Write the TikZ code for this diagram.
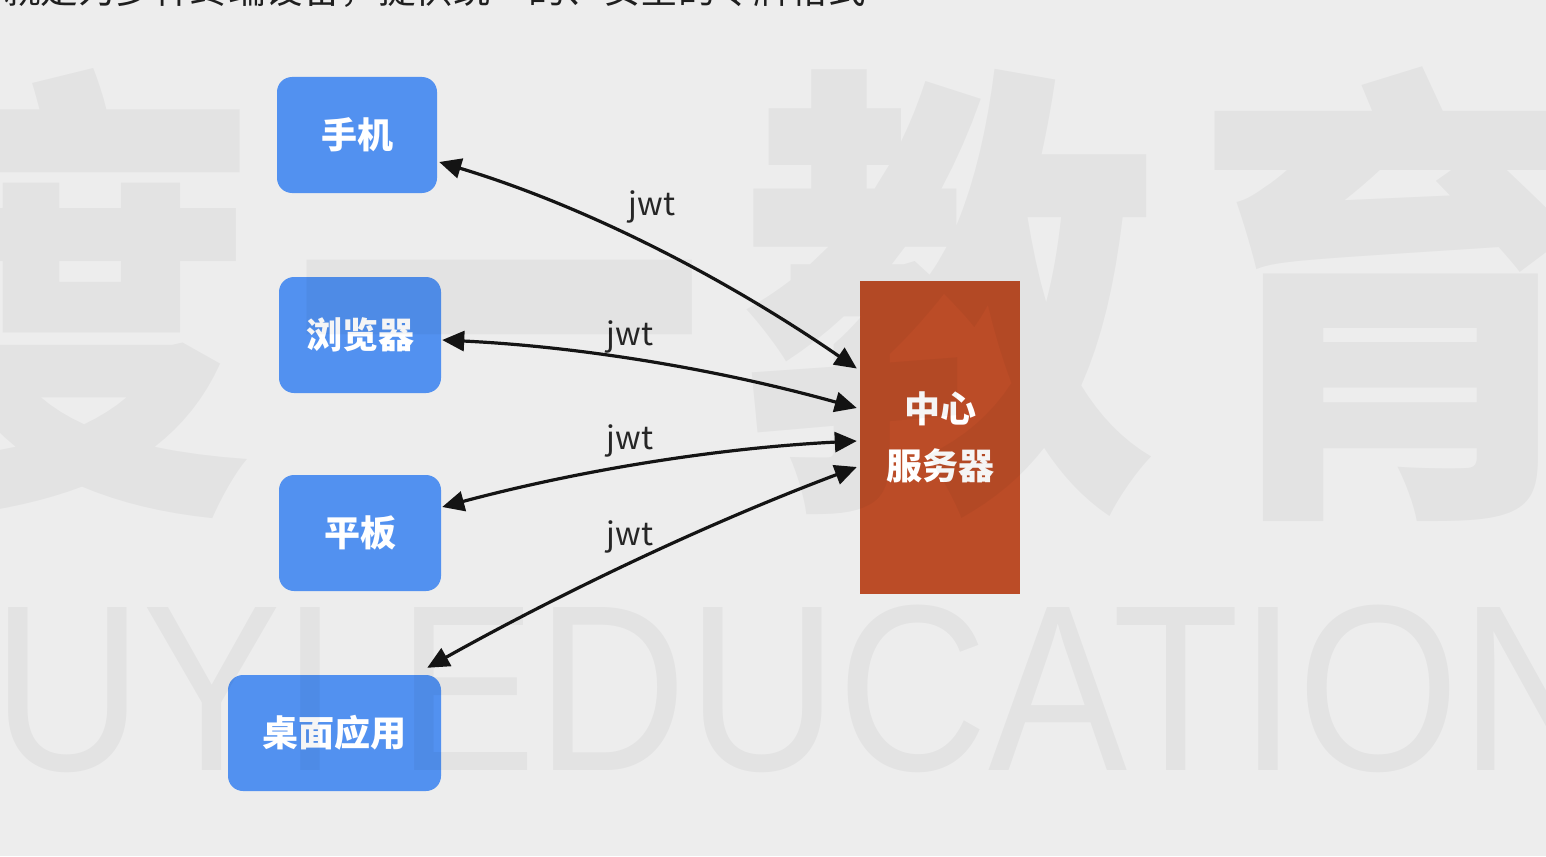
\documentclass[tikz,border=0pt]{standalone}
\usepackage{fontspec}
\usetikzlibrary{arrows.meta,calc}
\newfontfamily\cjk{Noto Sans CJK SC}
\newfontfamily\wmfont{Liberation Sans}
\definecolor{bgc}{HTML}{EDEDED}
\definecolor{blueb}{HTML}{5291F0}
\definecolor{srvc}{HTML}{BB4C27}
\begin{document}
\begin{tikzpicture}[x=1pt,y=-1pt,
  dev/.style={fill=blueb, rounded corners=15pt, text=white, font=\cjk\bfseries\fontsize{36}{40}\selectfont, inner sep=0pt},
  srvbox/.style={fill=srvc, text=white, align=center, font=\cjk\bfseries\fontsize{36}{57}\selectfont, inner sep=0pt},
  link/.style={line width=3.2pt, black!92, {Triangle[length=22pt,width=20pt]}-{Triangle[length=22pt,width=20pt]}},
  lbl/.style={font=\cjk\fontsize{32}{36}\selectfont, text=black!85, inner sep=0pt},
  wmark/.style={text=black, text opacity=0.04, inner sep=0pt}
]
\useasboundingbox (0,0) rectangle (1546,856);
\fill[bgc] (0,0) rectangle (1546,856);
\clip (0,0) rectangle (1546,856);

\node[anchor=base west, inner sep=0pt, font=\cjk\fontsize{37.5}{40}\selectfont, text=black!88] (top) at (3,4) {就是为多种终端设备，提供统一的、安全的令牌格式};

\node[dev, minimum width=160pt, minimum height=116pt] (phone) at (357,135) {手机};
\node[dev, minimum width=162pt, minimum height=116pt] (browser) at (360,335) {浏览器};
\node[dev, minimum width=162pt, minimum height=116pt] (tablet) at (360,533) {平板};
\node[dev, minimum width=213pt, minimum height=116pt] (desktop) at (334.5,733) {桌面应用};
\node[srvbox, minimum width=160pt, minimum height=313pt] (server) at (940,437.5) {中心\\服务器};

\coordinate (a1) at ($(phone.east)+(2,27)$);
\coordinate (b1) at ($(server.west)+(-3,-69)$);
\coordinate (a2) at ($(browser.east)+(1,5)$);
\coordinate (b2) at ($(server.west)+(-3,-29.5)$);
\coordinate (a3) at ($(tablet.east)+(1,-26)$);
\coordinate (b3) at ($(server.west)+(-3,3.5)$);
\coordinate (a4) at ($(desktop.north east)+(-14,-7)$);
\coordinate (b4) at ($(server.west)+(-3,29.5)$);

\draw[link] (a1) .. controls ($(a1)!0.333!(b1)+(0,-27)$) and ($(a1)!0.667!(b1)+(0,-27)$) .. (b1);
\draw[link] (a2) .. controls ($(a2)!0.333!(b2)+(0,-16)$) and ($(a2)!0.667!(b2)+(0,-16)$) .. (b2);
\draw[link] (a3) .. controls ($(a3)!0.333!(b3)+(0,-15)$) and ($(a3)!0.667!(b3)+(0,-15)$) .. (b3);
\draw[link] (a4) .. controls ($(a4)!0.333!(b4)+(0,-13)$) and ($(a4)!0.667!(b4)+(0,-13)$) .. (b4);

\node[lbl] (j1) at (652,207) {jwt};
\node[lbl] (j2) at (630,337) {jwt};
\node[lbl] (j3) at (630,441) {jwt};
\node[lbl] (j4) at (630,537) {jwt};

\begin{scope}[every node/.style={wmark}]
\node[font=\cjk\bfseries\fontsize{470}{470}\selectfont, xscale=0.88, transform shape] (w1) at (50,294) {度};
\node[font=\cjk\bfseries\fontsize{470}{470}\selectfont, xscale=0.88, transform shape] (w2) at (499,370) {一};
\node[font=\cjk\bfseries\fontsize{470}{470}\selectfont, xscale=0.88, transform shape] (w3) at (950,294) {教};
\node[font=\cjk\bfseries\fontsize{470}{470}\selectfont, xscale=0.88, transform shape] (w4) at (1400,294) {育};
\node[anchor=base west, font=\wmfont\fontsize{237}{240}\selectfont, xscale=0.88, transform shape] (w5) at (-8,770) {UYI EDUCATION};
\end{scope}
\end{tikzpicture}
\end{document}
